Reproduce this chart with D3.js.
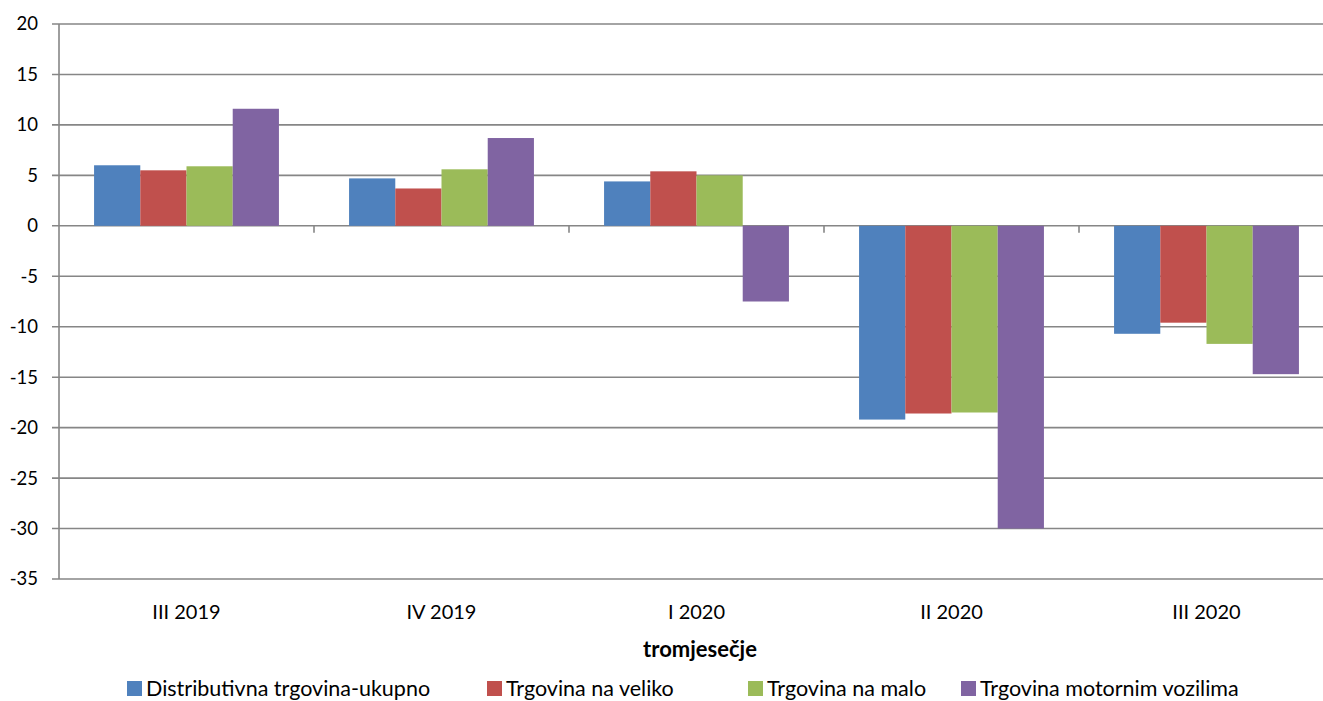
<!DOCTYPE html>
<html>
<head>
<meta charset="utf-8">
<script src="https://cdn.jsdelivr.net/npm/d3@7"></script>
<style>
  body { margin: 0; background: #fff; }
  svg text { font-family: Lato, "Liberation Sans", sans-serif; fill: #000; }
</style>
</head>
<body>
<svg id="chart" width="1323" height="701"></svg>
<script>
//////////////////// DATA ////////////////////
const quarters = ["III 2019", "IV 2019", "I 2020", "II 2020", "III 2020"];
const seriesNames = ["Distributivna trgovina-ukupno", "Trgovina na veliko", "Trgovina na malo", "Trgovina motornim vozilima"];
const seriesColors = ["#4F81BD", "#C0504D", "#9BBB59", "#8064A2"];
const totalValues = [6.0, 4.7, 4.4, -19.2, -10.7];
const wholesaleValues = [5.5, 3.7, 5.4, -18.6, -9.6];
const retailValues = [5.9, 5.6, 5.0, -18.5, -11.7];
const motorValues = [11.6, 8.7, -7.5, -30.0, -14.7];
const yTicks = [20, 15, 10, 5, 0, -5, -10, -15, -20, -25, -30, -35];
const xTitle = "tromjesečje";

const seriesValues = [totalValues, wholesaleValues, retailValues, motorValues];

//////////////////// SIZES ////////////////////
const svg = d3.select("#chart");
const plot = { left: 59, right: 1334, top: 24, bottom: 579 };

//////////////////// SCALES ////////////////////
const x0 = d3.scaleBand()
    .domain(quarters)
    .range([plot.left, plot.right])
    .paddingInner(0.275)
    .paddingOuter(0.1375);

const x1 = d3.scaleBand()
    .domain(seriesNames)
    .range([0, x0.bandwidth()]);

const y = d3.scaleLinear()
    .domain([-35, 20])
    .range([plot.bottom, plot.top]);

//////////////////// GRID + Y AXIS ////////////////////
svg.append("g")
    .selectAll("line")
    .data(yTicks)
    .join("line")
    .attr("x1", plot.left - 7)
    .attr("x2", 1323)
    .attr("y1", d => y(d))
    .attr("y2", d => y(d))
    .attr("stroke", "#868686")
    .attr("stroke-width", 1.6);

svg.append("line")
    .attr("x1", plot.left).attr("x2", plot.left)
    .attr("y1", plot.top).attr("y2", plot.bottom)
    .attr("stroke", "#868686")
    .attr("stroke-width", 1.6);

svg.append("g")
    .selectAll("text")
    .data(yTicks)
    .join("text")
    .attr("x", 38)
    .attr("y", d => y(d))
    .attr("dy", "0.35em")
    .attr("text-anchor", "end")
    .style("font-size", "18.5px")
    .text(d => d);

//////////////////// BARS ////////////////////
const groups = svg.append("g")
    .selectAll("g")
    .data(quarters)
    .join("g")
    .attr("transform", d => `translate(${x0(d)},0)`);

groups.selectAll("rect")
    .data((q, i) => seriesNames.map((s, j) => ({ s, j, v: seriesValues[j][i] })))
    .join("rect")
    .attr("x", d => x1(d.s))
    .attr("width", x1.bandwidth())
    .attr("y", d => y(Math.max(0, d.v)))
    .attr("height", d => Math.abs(y(d.v) - y(0)))
    .attr("fill", d => seriesColors[d.j]);

// category boundary ticks under zero line
const step = x0.step();
svg.append("g")
    .selectAll("line")
    .data(quarters.slice(1))
    .join("line")
    .attr("x1", d => x0(d) - step * x0.paddingInner() / 2)
    .attr("x2", d => x0(d) - step * x0.paddingInner() / 2)
    .attr("y1", y(0))
    .attr("y2", y(0) + 7)
    .attr("stroke", "#868686")
    .attr("stroke-width", 1.6);

//////////////////// X LABELS ////////////////////
svg.append("g")
    .selectAll("text")
    .data(quarters)
    .join("text")
    .attr("x", d => x0(d) + x0.bandwidth() / 2)
    .attr("y", 612)
    .attr("dy", "0.35em")
    .attr("text-anchor", "middle")
    .style("font-size", "20px")
    .text(d => d);

svg.append("text")
    .attr("x", 700)
    .attr("y", 649)
    .attr("dy", "0.35em")
    .attr("text-anchor", "middle")
    .style("font-size", "22px")
    .style("font-weight", "bold")
    .text(xTitle);

//////////////////// LEGEND ////////////////////
const legendX = [127, 487, 748, 961];
const legend = svg.append("g")
    .selectAll("g")
    .data(seriesNames)
    .join("g")
    .attr("transform", (d, i) => `translate(${legendX[i]},688)`);

legend.append("rect")
    .attr("x", 0).attr("y", -7)
    .attr("width", 15).attr("height", 15)
    .attr("fill", (d, i) => seriesColors[i]);

legend.append("text")
    .attr("x", 19)
    .attr("y", 0)
    .attr("dy", "0.35em")
    .style("font-size", "21.5px")
    .text(d => d);
</script>
</body>
</html>
